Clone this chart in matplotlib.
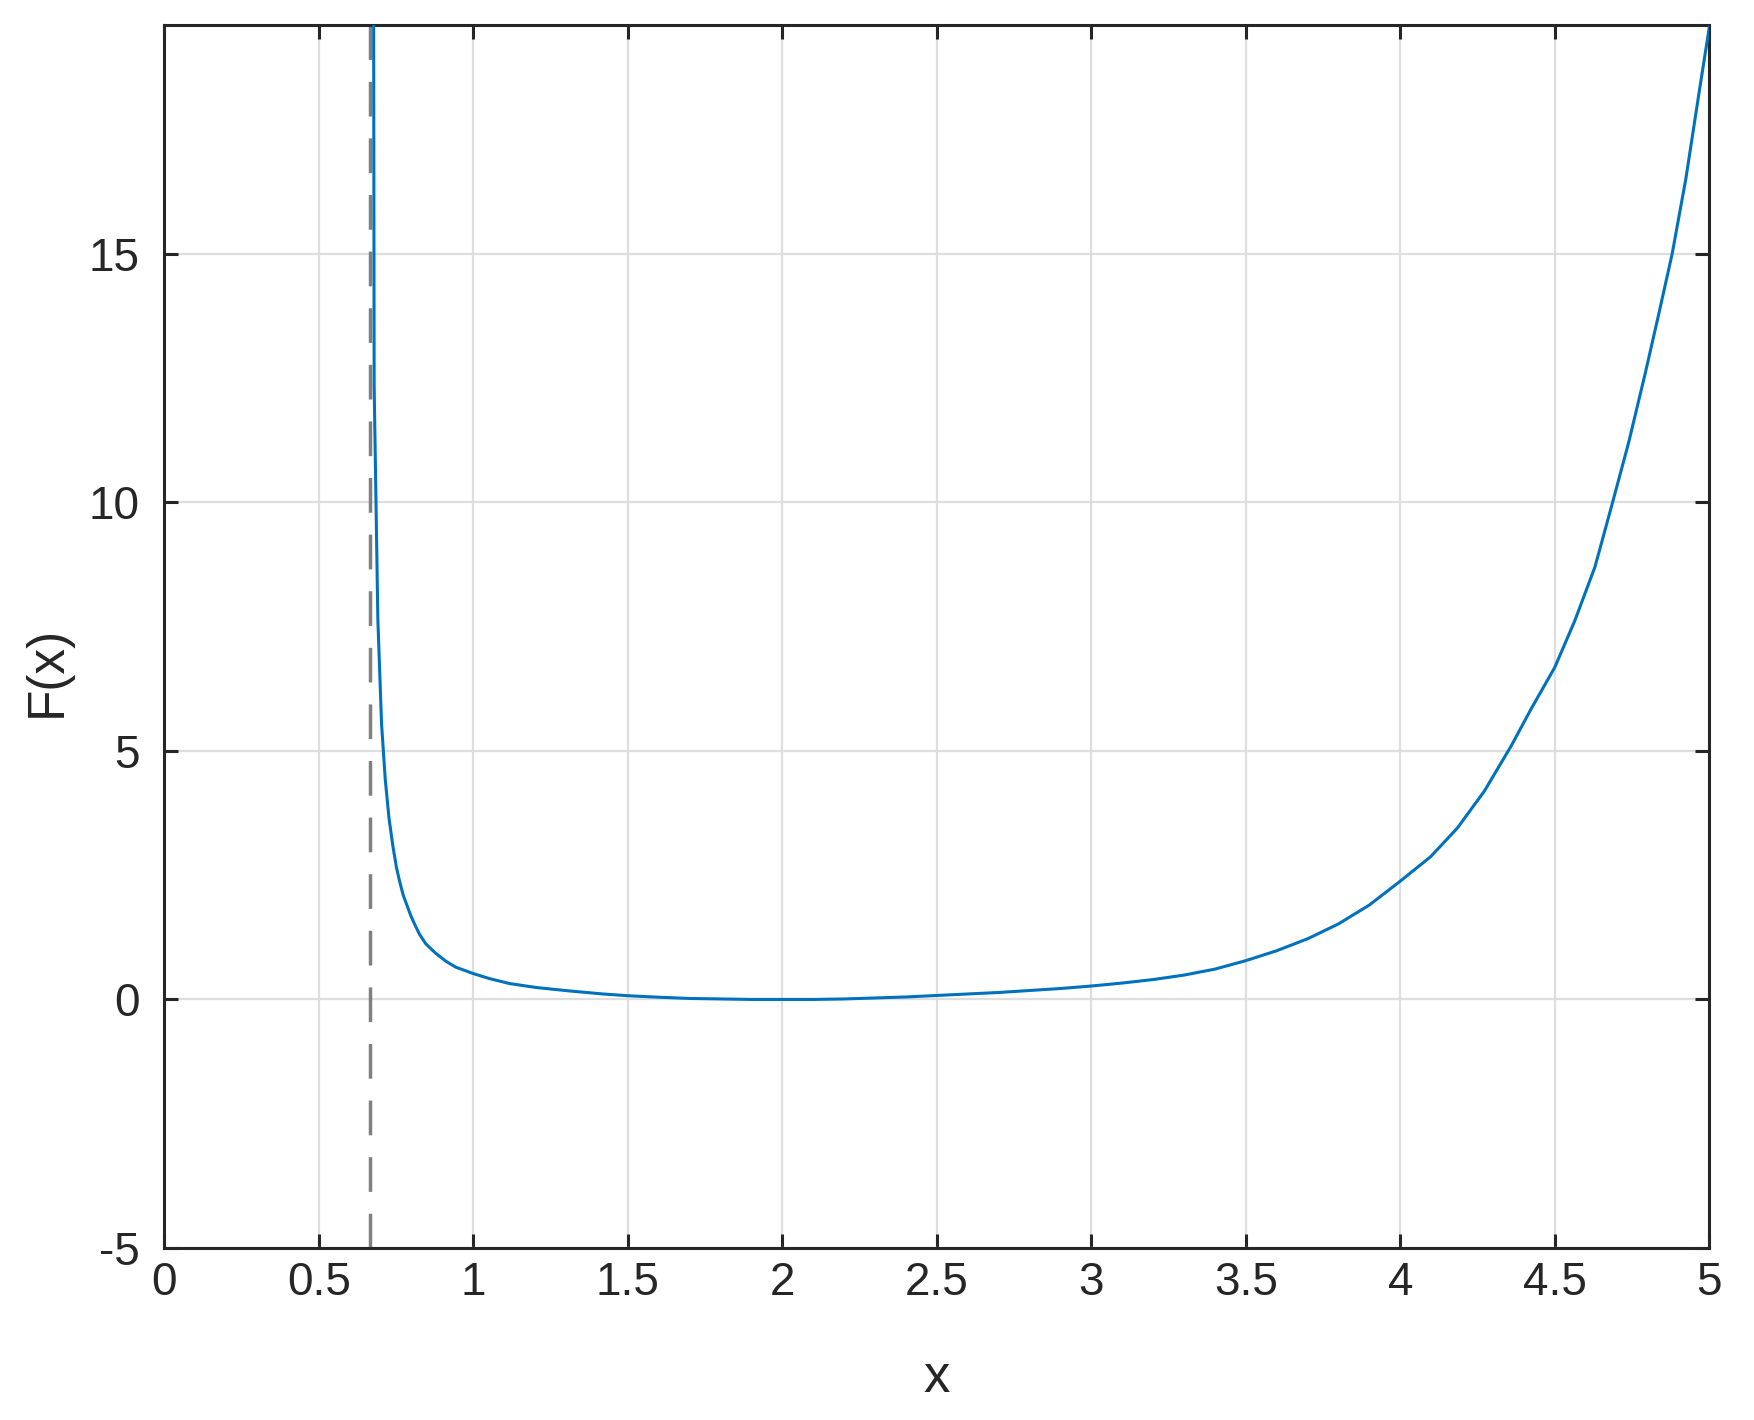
import matplotlib
matplotlib.use("Agg")
import matplotlib.pyplot as plt

plt.rcParams['font.family'] = ['Liberation Sans', 'DejaVu Sans']

# curve values
x_vals = [0.673, 0.679, 0.691, 0.703, 0.715, 0.727, 0.739, 0.751, 0.762, 0.773,
          0.786, 0.798, 0.811, 0.825, 0.846, 0.878, 0.911, 0.943, 1.0, 1.052,
          1.117, 1.204, 1.313, 1.42, 1.5, 1.6, 1.7, 1.8, 1.9, 2.0,
          2.1, 2.2, 2.3, 2.4, 2.5, 2.6, 2.7, 2.8, 2.9, 3.0,
          3.1, 3.2, 3.3, 3.4, 3.5, 3.6, 3.7, 3.8, 3.9, 4.0,
          4.098, 4.185, 4.272, 4.359, 4.424, 4.5, 4.565, 4.63, 4.685, 4.739,
          4.793, 4.837, 4.88, 4.924, 4.967, 5.0]
f_vals = [40.0, 12.34, 7.64, 5.54, 4.42, 3.65, 3.11, 2.66, 2.36, 2.10,
          1.88, 1.68, 1.50, 1.32, 1.12, 0.93, 0.77, 0.65, 0.52, 0.42,
          0.32, 0.24, 0.17, 0.11, 0.075, 0.045, 0.02, 0.01, 0.0, 0.0,
          0.0, 0.01, 0.03, 0.05, 0.08, 0.11, 0.14, 0.18, 0.22, 0.27,
          0.33, 0.40, 0.49, 0.61, 0.78, 0.98, 1.22, 1.52, 1.90, 2.38,
          2.87, 3.45, 4.19, 5.1, 5.85, 6.68, 7.62, 8.7, 9.95, 11.2,
          12.6, 13.8, 15.0, 16.5, 18.24, 19.55]

asymptote_x = 2.0 / 3.0
x_ticks = [0, 0.5, 1, 1.5, 2, 2.5, 3, 3.5, 4, 4.5, 5]
x_tick_labels = ['0', '0.5', '1', '1.5', '2', '2.5', '3', '3.5', '4', '4.5', '5']
y_ticks = [-5, 0, 5, 10, 15]
y_tick_labels = ['-5', '0', '5', '10', '15']

dark = '#262626'
fig = plt.figure(figsize=(17.54, 14.2), dpi=100)
ax = fig.add_axes([0.0937, 0.1211, 0.8808, 0.8613])

ax.grid(True, color='#dedede', linewidth=1.6, zorder=0)
ax.set_axisbelow(True)

ax.plot(x_vals, f_vals, color='#0072BD', linewidth=2.2, zorder=3, clip_on=True)
ln = ax.axvline(asymptote_x, color='#808080', linewidth=2.5, zorder=2)
ln.set_dashes([10, 6.3])

ax.set_xlim(0, 5)
ax.set_ylim(-5, 19.6)
ax.set_xticks(x_ticks)
ax.set_xticklabels(x_tick_labels)
ax.set_yticks(y_ticks)
ax.set_yticklabels(y_tick_labels)

for s in ax.spines.values():
    s.set_color(dark)
    s.set_linewidth(2.2)

ax.tick_params(direction='in', length=10, width=2.2, color=dark,
               top=True, right=True, labelsize=33, labelcolor=dark)
ax.tick_params(axis='x', pad=9)
ax.tick_params(axis='y', pad=18)

ax.set_xlabel('x', fontsize=38, color=dark)
ax.set_ylabel('F(x)', fontsize=37, color=dark)
ax.xaxis.set_label_coords(0.4998, -0.1066)
ax.xaxis.label.set_verticalalignment('center')
ax.yaxis.set_label_coords(-0.0757, 0.4713)
ax.yaxis.label.set_verticalalignment('center')

fig.savefig('out.png', dpi=100, facecolor='white')
